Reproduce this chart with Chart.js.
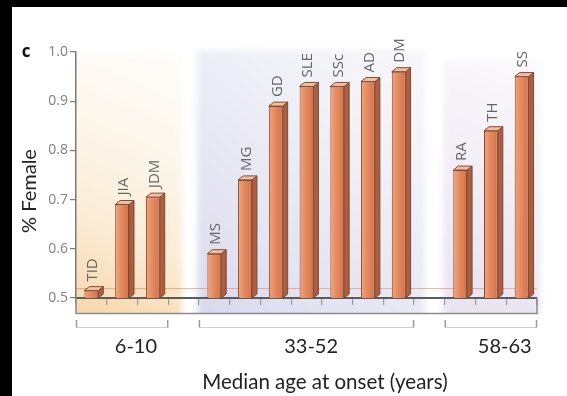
<!DOCTYPE html>
<html>
<head>
<meta charset="utf-8">
<script src="https://cdn.jsdelivr.net/npm/chart.js@4.4.1/dist/chart.umd.min.js"></script>
<style>
  html, body { margin: 0; padding: 0; background: #000; }
  body { width: 567px; height: 396px; position: relative; overflow: hidden; }
  #wrap { position: absolute; left: 12px; top: 7px; width: 555px; height: 389px; background: #fff; }
  canvas { display: block; }
</style>
</head>
<body>
<div id="wrap"><canvas id="chart" width="555" height="389"></canvas></div>
<script>
// Share of female patients per autoimmune disease, ordered by median age at onset.
// Empty slots separate the three age groups.
const diseases    = ['TID', 'JIA', 'JDM', '', 'MS', 'MG', 'GD', 'SLE', 'SSc', 'AD', 'DM', '', 'RA', 'TH', 'SS'];
const femaleShare = [0.515, 0.69, 0.705, null, 0.59, 0.74, 0.89, 0.93, 0.93, 0.94, 0.96, null, 0.76, 0.84, 0.95];
const ageGroups   = ['6-10', '33-52', '58-63'];
const groupFirst  = [0, 4, 12];
const groupLast   = [2, 10, 14];
const yTicks      = [0.5, 0.6, 0.7, 0.8, 0.9, 1.0];

const DEPTH_X = 5, DEPTH_Y = 4;

// Boundary pixel between category i-1 and i (i may be fractional)
function slotEdge(xs, i) { return xs.getPixelForValue(i - 0.5); }

const backdrop = {
  id: 'backdrop',
  beforeDraw(chart) {
    const { ctx, chartArea: ca, scales: { x: xs } } = chart;
    const bottom = ca.bottom + 15;
    const panels = [
      { from: -0.2, to: 3.45, top: ca.top + 3, stops: ['#f7d6aa', '#fbecd6', '#fdf7ec', '#fffdfa'] },
      { from: 3.95, to: 11.35, top: ca.top - 2, stops: ['#d9d9ed', '#e6e6f3', '#f0f0f8', '#f8f8fc'] },
      { from: 11.95, to: 15.1, top: ca.top + 8, stops: ['#e8e3f0', '#eeeaf4', '#f4f1f8', '#fbfafd'] }
    ];
    ctx.save();
    ctx.beginPath();
    ctx.rect(ca.left, 0, chart.width - ca.left, ca.bottom + 16);
    ctx.clip();
    ctx.filter = 'blur(3px)';
    panels.forEach(p => {
      const x0 = slotEdge(xs, p.from), x1 = slotEdge(xs, p.to);
      const g = ctx.createLinearGradient(x0, bottom, x1, p.top);
      p.stops.forEach((c, k) => g.addColorStop(k / (p.stops.length - 1), c));
      ctx.fillStyle = g;
      ctx.fillRect(x0, p.top, x1 - x0, bottom + 6 - p.top);
    });
    ctx.restore();
  },
  beforeDatasetsDraw(chart) {
    const { ctx, chartArea: ca, scales: { y: ys } } = chart;
    const yRef = Math.round(ys.getPixelForValue(0.521)) + 0.5;
    ctx.save();
    ctx.strokeStyle = 'rgba(232,128,88,0.55)';
    ctx.lineWidth = 1;
    ctx.beginPath();
    ctx.moveTo(ca.left, yRef);
    ctx.lineTo(ca.right, yRef);
    ctx.stroke();
    ctx.restore();
  }
};

const bars3d = {
  id: 'bars3d',
  afterDatasetsDraw(chart) {
    const ctx = chart.ctx;
    const ys = chart.scales.y;
    const b = ys.getPixelForValue(ys.min);
    const meta = chart.getDatasetMeta(0);
    ctx.save();
    ctx.lineWidth = 1;
    ctx.strokeStyle = '#7e4a33';
    meta.data.forEach((el, i) => {
      if (femaleShare[i] == null) return;
      const p = el.getProps(['x', 'y', 'width'], true);
      const l = p.x - p.width / 2, r = p.x + p.width / 2, t = p.y;
      // right side face
      ctx.fillStyle = '#b05d3c';
      ctx.beginPath();
      ctx.moveTo(r, t); ctx.lineTo(r + DEPTH_X, t - DEPTH_Y);
      ctx.lineTo(r + DEPTH_X, b - DEPTH_Y); ctx.lineTo(r, b);
      ctx.closePath(); ctx.fill(); ctx.stroke();
      // top face
      ctx.fillStyle = '#f2c0a1';
      ctx.beginPath();
      ctx.moveTo(l, t); ctx.lineTo(r, t);
      ctx.lineTo(r + DEPTH_X, t - DEPTH_Y); ctx.lineTo(l + DEPTH_X, t - DEPTH_Y);
      ctx.closePath(); ctx.fill(); ctx.stroke();
      // disease label, reading upward
      ctx.save();
      ctx.translate(p.x + 1.5, t - DEPTH_Y - 5);
      ctx.rotate(-Math.PI / 2);
      ctx.font = '15px "Open Sans"';
      ctx.fillStyle = '#666';
      ctx.textAlign = 'left';
      ctx.textBaseline = 'middle';
      ctx.fillText(diseases[i], 0, 0);
      ctx.restore();
    });
    ctx.restore();
  }
};

const annotations = {
  id: 'annotations',
  afterDraw(chart) {
    const { ctx, chartArea: ca, scales: { x: xs } } = chart;
    const boxBottom = ca.bottom + 15.5;
    ctx.save();
    // frame under the axis
    ctx.strokeStyle = '#8c8c8c';
    ctx.lineWidth = 1.5;
    ctx.beginPath();
    ctx.moveTo(ca.left, ca.bottom); ctx.lineTo(ca.left, boxBottom);
    ctx.lineTo(ca.right, boxBottom); ctx.lineTo(ca.right, ca.bottom);
    ctx.stroke();

    // age-group brackets and labels
    const brTop = ca.bottom + 22, brBot = ca.bottom + 29.5;
    const labelShift = [0.45, 0.15, 0.45];
    ageGroups.forEach((g, k) => {
      const x0 = slotEdge(xs, groupFirst[k]) + 0.5, x1 = slotEdge(xs, groupLast[k] + 1) - 0.5;
      ctx.strokeStyle = '#cfcfcf';
      ctx.lineWidth = 1;
      ctx.beginPath();
      ctx.moveTo(x0, brBot); ctx.lineTo(x1, brBot);
      ctx.stroke();
      ctx.strokeStyle = '#9a9a9a';
      ctx.lineWidth = 1.5;
      ctx.beginPath();
      ctx.moveTo(x0, brTop); ctx.lineTo(x0, brBot);
      ctx.moveTo(x1, brTop); ctx.lineTo(x1, brBot);
      ctx.stroke();
      const mid = xs.getPixelForValue((groupFirst[k] + groupLast[k]) / 2 + labelShift[k]);
      ctx.font = '20px Lato';
      ctx.fillStyle = '#222';
      ctx.textAlign = 'center';
      ctx.textBaseline = 'middle';
      ctx.fillText(g, mid, ca.bottom + 49);
    });

    // axis titles
    ctx.font = '20.5px Lato';
    ctx.fillStyle = '#222';
    ctx.textAlign = 'center';
    ctx.textBaseline = 'middle';
    ctx.fillText('Median age at onset (years)', xs.getPixelForValue(7.6), ca.bottom + 84);
    ctx.save();
    ctx.translate(18, 184);
    ctx.rotate(-Math.PI / 2);
    ctx.font = '20px Lato';
    ctx.fillText('% Female', 0, 0);
    ctx.restore();

    // panel letter
    ctx.font = 'bold 17px "Open Sans"';
    ctx.fillStyle = '#111';
    ctx.textAlign = 'center';
    ctx.fillText('c', 14, 45);
    ctx.restore();
  }
};

new Chart(document.getElementById('chart'), {
  type: 'bar',
  data: {
    labels: diseases,
    datasets: [{
      data: femaleShare,
      barPercentage: 0.9,
      categoryPercentage: 0.5,
      borderWidth: 1,
      borderColor: '#7e4a33',
      borderSkipped: false,
      backgroundColor(c) {
        const xs = c.chart.scales.x;
        if (!xs || c.dataIndex == null || !c.chart.chartArea) return '#e3875d';
        const cx = xs.getPixelForValue(c.dataIndex);
        const hw = xs.width / diseases.length * 0.45 / 2;
        const g = c.chart.ctx.createLinearGradient(cx - hw, 0, cx + hw, 0);
        g.addColorStop(0, '#eea682');
        g.addColorStop(0.4, '#e68d62');
        g.addColorStop(1, '#d5714a');
        return g;
      }
    }]
  },
  options: {
    responsive: false,
    animation: false,
    layout: { padding: { top: 45, right: 30, left: 0, bottom: 0 } },
    plugins: { legend: { display: false }, tooltip: { enabled: false } },
    scales: {
      x: {
        offset: true,
        grid: { offset: true, drawOnChartArea: false, drawTicks: true, tickLength: 7, color: '#9a9a9a', lineWidth: 1.2 },
        border: { display: true, color: '#5c5c5c', width: 2 },
        ticks: { display: false },
        afterFit(s) { s.height = 98; }
      },
      y: {
        min: 0.5,
        max: 1.0,
        afterBuildTicks(s) { s.ticks = yTicks.map(v => ({ value: v })); },
        grid: { drawOnChartArea: false, tickLength: 6, color: '#7a7a7a', lineWidth: 1.2 },
        border: { display: true, color: '#7a7a7a', width: 1.5 },
        ticks: {
          color: '#808080',
          padding: 2,
          font: { family: 'Open Sans', size: 14 },
          callback: v => Number(v).toFixed(1)
        },
        afterFit(s) { s.width = 64; }
      }
    }
  },
  plugins: [backdrop, bars3d, annotations]
});
</script>
</body>
</html>
